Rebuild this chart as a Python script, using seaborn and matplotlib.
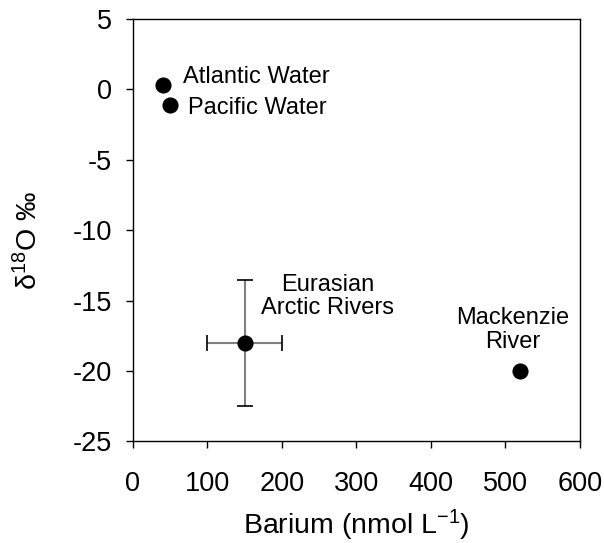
import pandas as pd
import matplotlib
matplotlib.use('Agg')
import matplotlib.pyplot as plt
import seaborn as sns

# data
sources = ['Atlantic Water', 'Pacific Water', 'Eurasian\nArctic Rivers', 'Mackenzie\nRiver']
barium = [40, 50, 150, 520]
d18o = [0.3, -1.1, -18, -20]
barium_err = [0, 0, 50, 0]
d18o_err = [0, 0, 4.5, 0]

x_ticks = [0, 100, 200, 300, 400, 500, 600]
y_ticks = [5, 0, -5, -10, -15, -20, -25]

sns.set_style('ticks')
plt.rcParams['font.family'] = ['Liberation Sans', 'DejaVu Sans']
plt.rcParams['mathtext.fontset'] = 'custom'
plt.rcParams['mathtext.rm'] = 'Liberation Sans'
plt.rcParams['mathtext.it'] = 'Liberation Sans:italic'
plt.rcParams['mathtext.bf'] = 'Liberation Sans:bold'
plt.rcParams['axes.unicode_minus'] = False
plt.rcParams['text.color'] = 'black'
plt.rcParams['axes.labelcolor'] = 'black'

df = pd.DataFrame({'source': sources, 'barium': barium, 'd18o': d18o,
                   'xerr': barium_err, 'yerr': d18o_err})

fig = plt.figure(figsize=(6.04, 5.43), dpi=100)
ax = fig.add_axes([0.2197, 0.187, 0.7406, 0.778])

# error bars only for the river end member with uncertainty
err = df[(df['xerr'] > 0) | (df['yerr'] > 0)]
eb = ax.errorbar(err['barium'], err['d18o'], xerr=err['xerr'], yerr=err['yerr'],
                 fmt='none', ecolor='#808080', elinewidth=1.5, capsize=5.5,
                 capthick=1.2, zorder=2)
for cap in eb[1]:
    cap.set_markeredgecolor('black')
    cap.set_color('black')

sns.scatterplot(data=df, x='barium', y='d18o', color='black', s=135,
                edgecolor='black', linewidth=0, legend=False, ax=ax, zorder=3)

# labels
ax.text(67, 0.85, 'Atlantic Water', fontsize=17, ha='left', va='center')
ax.text(74, -1.35, 'Pacific Water', fontsize=17, ha='left', va='center')
ax.text(261, -14.7, 'Eurasian\nArctic Rivers', fontsize=17, ha='center', va='center',
        linespacing=1.1)
ax.text(510, -17.1, 'Mackenzie\nRiver', fontsize=17, ha='center', va='center',
        linespacing=1.1)

ax.set_xlim(0, 600)
ax.set_ylim(-25, 5)
ax.set_xticks(x_ticks)
ax.set_yticks(y_ticks)
ax.tick_params(labelsize=19.5, direction='out', length=5, width=1, color='black',
               labelcolor='black', top=False, right=False)
ax.tick_params(axis='x', pad=16)
ax.tick_params(axis='y', pad=10)
for spine in ax.spines.values():
    spine.set_visible(True)
    spine.set_color('black')
    spine.set_linewidth(1)

ax.set_xlabel('Barium (nmol L$^{-1}$)', fontsize=20.5, labelpad=8)
ax.set_ylabel('δ$^{18}$O ‰', fontsize=20.5)
ax.yaxis.set_label_coords(-0.20, 0.475)

fig.savefig('out.png', dpi=100)
